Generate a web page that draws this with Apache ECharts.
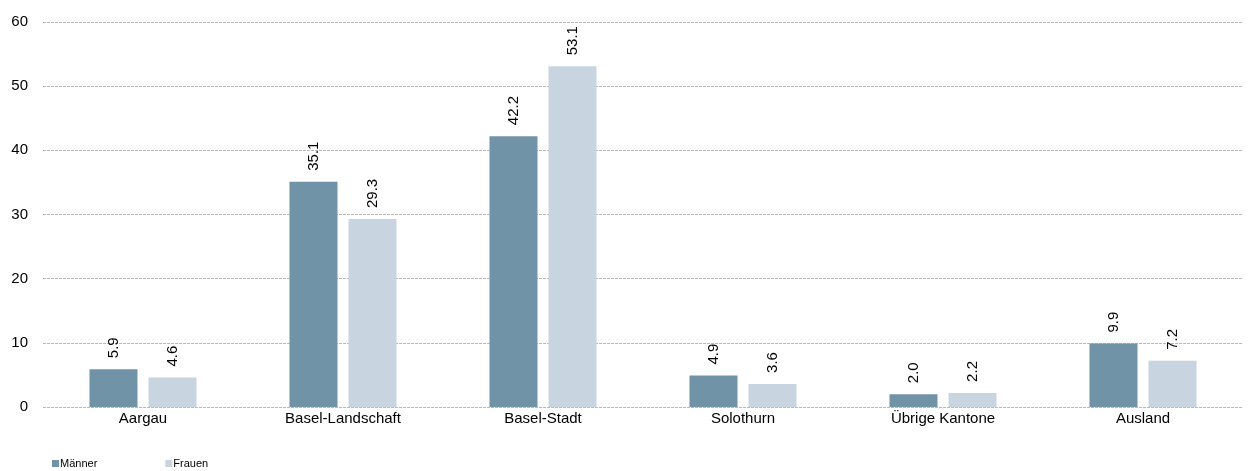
<!DOCTYPE html>
<html><head><meta charset="utf-8">
<script src="https://cdn.jsdelivr.net/npm/echarts@6/dist/echarts.min.js"></script>
<style>html,body{margin:0;padding:0;background:#fff}#c{width:1255px;height:471px}</style>
</head><body><div id="c"></div>
<script>
const categories = ['Aargau','Basel-Landschaft','Basel-Stadt','Solothurn','Übrige Kantone','Ausland'];
const maenner = [5.9, 35.1, 42.2, 4.9, 2.0, 9.9];
const frauen = [4.6, 29.3, 53.1, 3.6, 2.2, 7.2];
const seriesNames = ['Männer','Frauen'];
const colors = ['#7093a8','#c8d4e0'];
const font = 'Liberation Sans, Arial, Helvetica, sans-serif';
const chart = echarts.init(document.getElementById('c'));
const lbl = {show:true, position:'top', rotate:90, align:'left', verticalAlign:'middle', distance:11,
  formatter: p => p.value.toFixed(1), color:'#000', fontSize:15, fontFamily:font};
chart.setOption({
  animation:false,
  textStyle:{fontFamily:font},
  grid:{left:43, right:12, top:22, bottom:64, containLabel:false},
  legend:{left:47, bottom:-3, itemWidth:7, itemHeight:7, itemGap:68, icon:'rect',
    textStyle:{fontSize:11, color:'#000', fontFamily:font, padding:[0,0,0,-4]},
    data:seriesNames},
  xAxis:{type:'category', data:categories,
    axisLine:{show:false}, axisTick:{show:false},
    axisLabel:{color:'#000', fontSize:15, margin:4, fontFamily:font}},
  yAxis:{type:'value', min:0, max:60, interval:10,
    axisLine:{show:false}, axisTick:{show:false},
    axisLabel:{color:'#000', fontSize:15, margin:15, fontFamily:font},
    splitLine:{lineStyle:{color:'#b8b8b8', type:[3,1], width:1}}},
  series:[
    {name:seriesNames[0], type:'bar', data:maenner, barWidth:48, barGap:'23%', itemStyle:{color:colors[0]}, label:lbl},
    {name:seriesNames[1], type:'bar', data:frauen, barWidth:48, barGap:'23%', itemStyle:{color:colors[1]}, label:lbl}
  ]
});
</script></body></html>
